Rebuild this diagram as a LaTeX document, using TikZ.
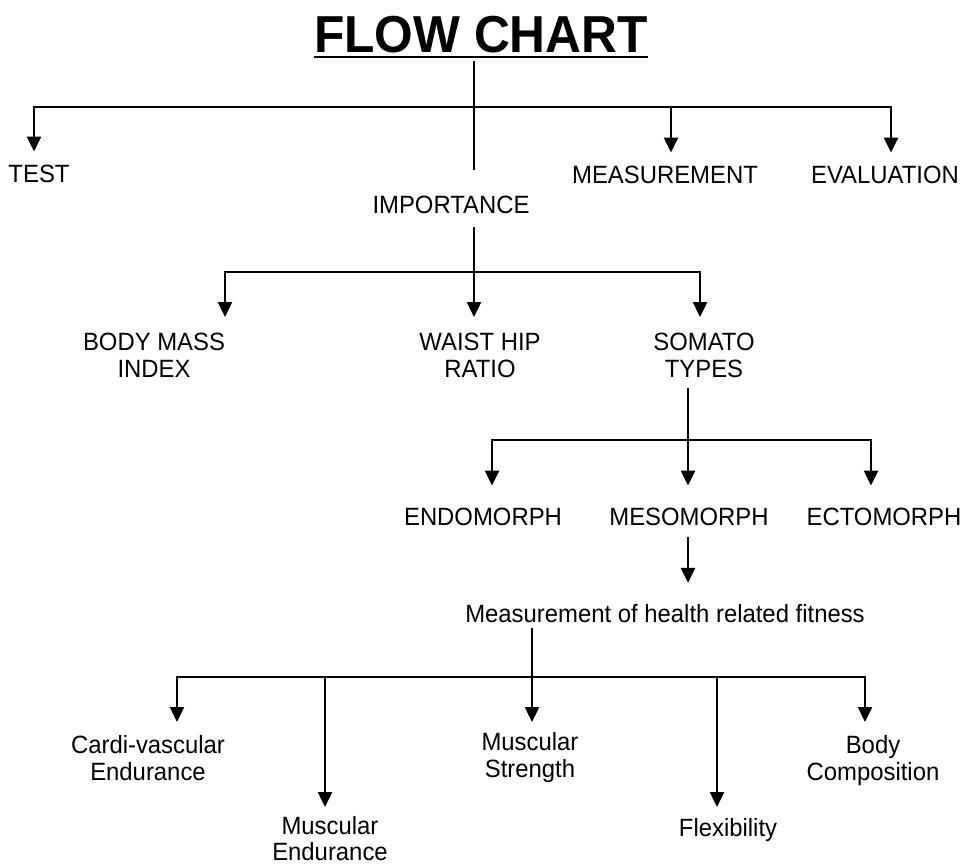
\documentclass[tikz,border=0pt]{standalone}
\usepackage{fontspec}
\setmainfont{Liberation Sans}[FakeStretch=0.955]
\usetikzlibrary{arrows.meta}
\begin{document}
\begin{tikzpicture}[x=1pt,y=-1pt,
  lbl/.style={inner sep=0pt, outer sep=0pt, font=\fontsize{25}{27}\selectfont, align=center},
  ln/.style={line width=2.4pt},
  bar/.style={line width=2.7pt, line cap=rect},
  arr/.style={line width=2.4pt, -{Triangle[length=15pt,width=14pt]}},
]
\useasboundingbox (0,0) rectangle (965,865);

% title
\node[lbl, anchor=base, font=\fontsize{52}{60}\selectfont\bfseries] (title) at (481,52) {FLOW CHART};
\draw[line width=2.6pt] ([yshift=-5pt]title.base west) -- ([yshift=-5pt]title.base east);

% level 1 labels
\node[lbl, anchor=base] (test) at (39,182) {TEST};
\node[lbl, anchor=base] (meas) at (665,183) {MEASUREMENT};
\node[lbl, anchor=base] (eval) at (885,183) {EVALUATION};
\node[lbl, anchor=base] (imp) at (451,213) {IMPORTANCE};

% level 2 labels
\node[lbl, anchor=north] (bmi) at (154,333) {BODY MASS\\INDEX};
\node[lbl, anchor=north] (whr) at (480,333) {WAIST HIP\\RATIO};
\node[lbl, anchor=north] (som) at (704,333) {SOMATO\\TYPES};

% level 3 labels
\node[lbl, anchor=base] (endo) at (483,525) {ENDOMORPH};
\node[lbl, anchor=base] (meso) at (689,525) {MESOMORPH};
\node[lbl, anchor=base] (ecto) at (884,525) {ECTOMORPH};

\node[lbl, anchor=base] (mhrf) at (665,622) {Measurement of health related fitness};

% level 4 labels
\node[lbl, anchor=north] (cve) at (148,735) {Cardi-vascular\\Endurance};
\node[lbl, anchor=north, font=\fontsize{25}{26}\selectfont] (mend) at (330,816) {Muscular\\Endurance};
\node[lbl, anchor=north] (mstr) at (530,732) {Muscular\\Strength};
\node[lbl, anchor=north] (flex) at (728,818) {Flexibility};
\node[lbl, anchor=north] (bcomp) at (873,735) {Body\\Composition};

% ---- connectors: top
\coordinate (t0) at (474,61);
\coordinate (t1) at (474,170);
\coordinate (b1L) at (34,107);
\coordinate (b1M) at (671,107);
\coordinate (b1R) at (891,107);
\draw[ln] (t0) -- (t1);
\draw[bar] (b1L) -- (b1R);
\draw[arr] (b1L) -- ([yshift=13pt]b1L |- test.north);
\draw[arr] (b1M) -- ([yshift=13pt]b1M |- meas.north);
\draw[arr] (b1R) -- ([yshift=13pt]b1R |- eval.north);

% importance branch
\coordinate (i0) at (474,227);
\coordinate (b2L) at (225,272);
\coordinate (b2M) at (474,272);
\coordinate (b2R) at (700,272);
\draw[ln] (i0) -- (b2M);
\draw[bar] (b2L) -- (b2R);
\draw[arr] (b2L) -- ([yshift=16pt]b2L |- bmi.north);
\draw[arr] (b2M) -- ([yshift=16pt]b2M |- whr.north);
\draw[arr] (b2R) -- ([yshift=16pt]b2R |- som.north);

% somato branch
\coordinate (s0) at (688,388);
\coordinate (b3L) at (492,440);
\coordinate (b3M) at (688,440);
\coordinate (b3R) at (871,440);
\draw[ln] (s0) -- (b3M);
\draw[bar] (b3L) -- (b3R);
\draw[arr] (b3L) -- ([yshift=22pt]b3L |- endo.north);
\draw[arr] (b3M) -- ([yshift=22pt]b3M |- meso.north);
\draw[arr] (b3R) -- ([yshift=22pt]b3R |- ecto.north);

% mesomorph to measurement
\coordinate (m0) at (688,537);
\draw[arr] (m0) -- ([yshift=21pt]m0 |- mhrf.north);

% fitness branch
\coordinate (f0) at (532,628);
\coordinate (b4A) at (177,677);
\coordinate (b4B) at (325,677);
\coordinate (b4C) at (532,677);
\coordinate (b4D) at (717,677);
\coordinate (b4E) at (865,677);
\draw[ln] (f0) -- (b4C);
\draw[bar] (b4A) -- (b4E);
\draw[arr] (b4A) -- ([yshift=13pt]b4A |- cve.north);
\draw[arr] (b4B) -- ([yshift=9pt]b4B |- mend.north);
\draw[arr] (b4C) -- ([yshift=10pt]b4C |- mstr.north);
\draw[arr] (b4D) -- ([yshift=11pt]b4D |- flex.north);
\draw[arr] (b4E) -- ([yshift=13pt]b4E |- bcomp.north);
\end{tikzpicture}
\end{document}
